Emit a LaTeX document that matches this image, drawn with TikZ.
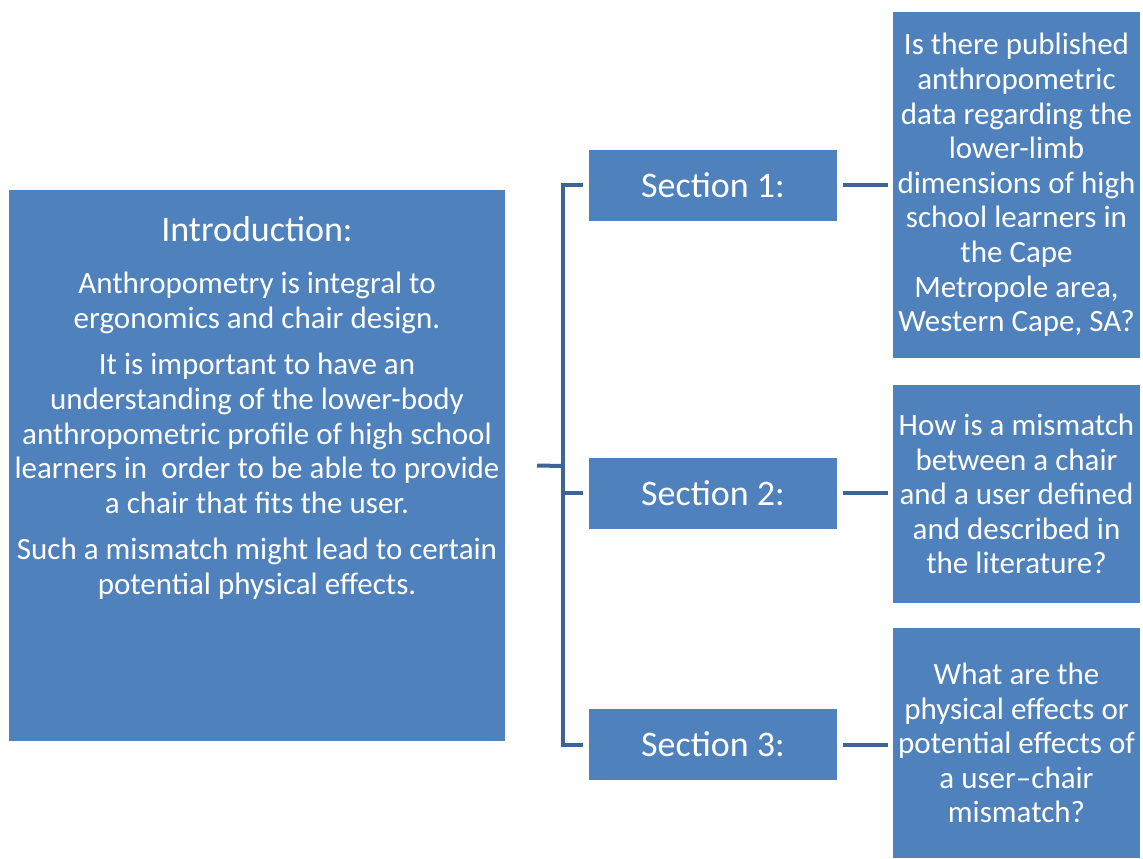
\documentclass[tikz,border=0pt]{standalone}
\usepackage{fontspec}
\setmainfont{Carlito}
\definecolor{boxblue}{HTML}{4F81BD}
\definecolor{linkblue}{HTML}{3C6496}
\begin{document}
\begin{tikzpicture}[x=1pt,y=-1pt,
  box/.style={rectangle, fill=boxblue, draw=none, inner sep=0pt, outer sep=0pt,
    text=white, align=center, font=\fontsize{31}{34.6}\selectfont},
  secbox/.style={box, minimum width=248pt, minimum height=71pt,
    font=\fontsize{36}{40}\selectfont},
  qbox/.style={box, minimum width=247pt},
  conn/.style={draw=linkblue, line width=4pt}]
\useasboundingbox (0,0) rectangle (1143,859);

% introduction panel and its text
\node[box, minimum width=496pt, minimum height=551pt] (intro) at (257,465.5) {};
\node[box, fill=none, anchor=north] (introtext) at (257,216) {%
  {\fontsize{36}{40}\selectfont Introduction:}\\[18pt]
  Anthropometry is integral to\\
  ergonomics and chair design.\\[12pt]
  It is important to have an\\
  understanding of the lower-body\\
  anthropometric profile of high school\\
  learners in\ \ order to be able to provide\\
  a chair that fits the user.\\[12pt]
  Such a mismatch might lead to certain\\
  potential physical effects.};

% section boxes
\node[secbox] (sec1) at (713,185) {Section 1:};
\node[secbox] (sec2) at (713,493) {Section 2:};
\node[secbox] (sec3) at (713,744.5) {Section 3:};

% research questions
\node[qbox, minimum height=346pt] (q1) at (1016.5,185) {%
  Is there published\\ anthropometric\\ data regarding the\\ lower-limb\\
  dimensions of high\\ school learners in\\ the Cape\\ Metropole area,\\
  Western Cape, SA?};
\node[qbox, minimum height=218pt] (q2) at (1016.5,494) {%
  How is a mismatch\\ between a chair\\ and a user defined\\ and described in\\
  the literature?};
\node[qbox, minimum height=230pt] (q3) at (1016.5,743) {%
  What are the\\ physical effects or\\ potential effects of\\ a user--chair\\
  mismatch?};

% bracket joining the introduction to the three sections
\coordinate (spine) at (563,466);
\draw[conn] ([xshift=-6pt]sec1.west) -- ++(-20,0) |- ([xshift=-6pt]sec3.west);
\draw[conn] ([xshift=32pt]intro.east) -- (spine);
\draw[conn] (spine |- sec2.west) -- ([xshift=-6pt]sec2.west);

% sections to questions
\draw[conn, shorten <=6pt, shorten >=5pt] (sec1.east) -- (q1.west);
\draw[conn, shorten <=6pt, shorten >=5pt] (sec2.east) -- (sec2.east -| q2.west);
\draw[conn, shorten <=6pt, shorten >=5pt] (sec3.east) -- (sec3.east -| q3.west);
\end{tikzpicture}
\end{document}
